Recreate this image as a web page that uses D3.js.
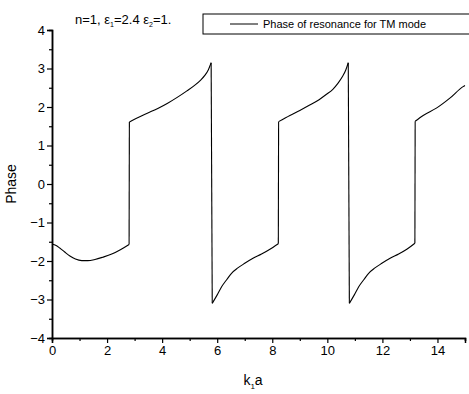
<!DOCTYPE html>
<html>
<head>
<meta charset="utf-8">
<script src="https://cdn.jsdelivr.net/npm/d3@7"></script>
<style>
  body { margin: 0; background: #fff; }
  text { font-family: "Liberation Sans", Arial, sans-serif; fill: #000; }
</style>
</head>
<body>
<svg width="469" height="394"></svg>
<script>
// phase curve (k1a, phase); jumps kept as consecutive points
var kaValues = [
  0, 0.15, 0.29, 0.45, 0.65, 0.85, 1.08, 1.3, 1.56, 1.85, 2.17, 2.5, 2.8,
  2.81, 3.13, 3.5, 3.86, 4.2, 4.59, 4.9, 5.19, 5.4, 5.55, 5.68, 5.78,
  5.82, 6.0, 6.16, 6.35, 6.52, 6.75, 7.0, 7.3, 7.61, 7.9, 8.22,
  8.23, 8.64, 9.0, 9.36, 9.7, 9.97, 10.2, 10.39, 10.55, 10.67, 10.76,
  10.8, 10.98, 11.14, 11.33, 11.5, 11.73, 11.98, 12.28, 12.59, 12.9, 13.18,
  13.19, 13.48, 13.96, 14.45, 14.93, 15
];
var phaseValues = [
  -1.56, -1.6, -1.67, -1.76, -1.87, -1.95, -1.99, -1.99, -1.96, -1.9, -1.82, -1.7, -1.57,
  1.61, 1.73, 1.85, 1.97, 2.1, 2.27, 2.42, 2.57, 2.7, 2.82, 2.97, 3.15,
  -3.1, -2.88, -2.67, -2.48, -2.32, -2.18, -2.06, -1.93, -1.82, -1.7, -1.55,
  1.62, 1.78, 1.91, 2.05, 2.19, 2.33, 2.46, 2.62, 2.79, 2.96, 3.15,
  -3.1, -2.88, -2.67, -2.48, -2.32, -2.18, -2.06, -1.93, -1.82, -1.69, -1.54,
  1.63, 1.78, 1.97, 2.23, 2.53, 2.56
];
var xTicks = [0, 2, 4, 6, 8, 10, 12, 14];
var yTicks = [-4, -3, -2, -1, 0, 1, 2, 3, 4];
var legendLabel = "Phase of resonance for TM mode";

var svg = d3.select("svg");
var mLeft = 52, mRight = 465, mTop = 30, mBottom = 338;

var x = d3.scaleLinear().domain([0, 15]).range([mLeft, mRight]);
var y = d3.scaleLinear().domain([-4, 4]).range([mBottom, mTop]);

// axes, only left and bottom like the original
var xAxis = d3.axisBottom(x).tickValues(xTicks).tickSize(5).tickPadding(3).tickFormat(d3.format("d"));
var yAxis = d3.axisLeft(y).tickValues(yTicks).tickSize(5).tickPadding(2).tickFormat(d3.format("d"));

var gx = svg.append("g").attr("transform", "translate(0," + mBottom + ")").call(xAxis);
var gy = svg.append("g").attr("transform", "translate(" + mLeft + ",0)").call(yAxis);

// minor ticks
gx.append("g").call(d3.axisBottom(x).tickValues(d3.range(1, 16, 2)).tickSize(3).tickFormat(""));
gy.append("g").call(d3.axisLeft(y).tickValues(d3.range(-3.5, 4, 1)).tickSize(3).tickFormat(""));

svg.selectAll(".domain").attr("stroke-width", 1.5);
svg.selectAll(".tick line").attr("stroke-width", 1.2);
gx.selectAll("text").style("font-size", "13px");
gy.selectAll("text").style("font-size", "13px");

// split the curve at the phase jumps, smooth each piece
var pts = kaValues.map(function(d, i) { return [d, phaseValues[i]]; });
var segs = [[pts[0]]], jumps = [];
for (var i = 1; i < pts.length; i++) {
  if (Math.abs(pts[i][1] - pts[i - 1][1]) > 2) {
    jumps.push([pts[i - 1], pts[i]]);
    segs.push([]);
  }
  segs[segs.length - 1].push(pts[i]);
}

var smooth = d3.line()
    .x(function(d) { return x(d[0]); })
    .y(function(d) { return y(d[1]); })
    .curve(d3.curveMonotoneX);
var straight = d3.line()
    .x(function(d) { return x(d[0]); })
    .y(function(d) { return y(d[1]); });

var curve = svg.append("g")
    .attr("fill", "none")
    .attr("stroke", "#000")
    .attr("stroke-width", 1.1);
curve.selectAll(".seg").data(segs).enter().append("path")
    .attr("class", "seg")
    .attr("d", smooth);
curve.selectAll(".jump").data(jumps).enter().append("path")
    .attr("class", "jump")
    .attr("d", straight);

// axis titles
svg.append("text")
    .attr("transform", "translate(16," + y(0) + ") rotate(-90)")
    .attr("text-anchor", "middle")
    .style("font-size", "14px")
    .text("Phase");

var xl = svg.append("text")
    .attr("x", 253).attr("y", 385)
    .attr("text-anchor", "middle")
    .style("font-size", "14px");
xl.append("tspan").text("k");
xl.append("tspan").attr("dy", 4).style("font-size", "8px").text("1");
xl.append("tspan").attr("dy", -4).text("a");

// annotation
var t = svg.append("text").attr("x", 75).attr("y", 24).style("font-size", "13px");
t.append("tspan").text("n=1, ε");
t.append("tspan").attr("dy", 3).style("font-size", "7px").text("1");
t.append("tspan").attr("dy", -3).text("=2.4 ε");
t.append("tspan").attr("dy", 3).style("font-size", "7px").text("2");
t.append("tspan").attr("dy", -3).text("=1.");

// legend box (runs off the right edge)
svg.append("rect")
    .attr("x", 203).attr("y", 14)
    .attr("width", 290).attr("height", 20)
    .attr("fill", "none").attr("stroke", "#000").attr("stroke-width", 1);
svg.append("line")
    .attr("x1", 230).attr("x2", 258).attr("y1", 24).attr("y2", 24)
    .attr("stroke", "#000").attr("stroke-width", 1);
svg.append("text")
    .attr("x", 263).attr("y", 28)
    .style("font-size", "11px")
    .text(legendLabel);
</script>
</body>
</html>
